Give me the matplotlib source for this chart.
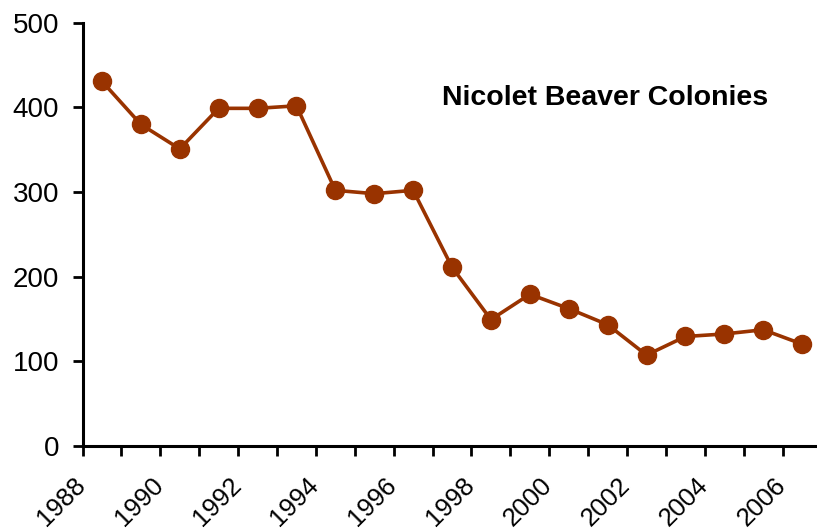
import matplotlib
matplotlib.use("Agg")
import matplotlib.pyplot as plt
from matplotlib.ticker import FixedLocator

plt.rcParams['font.family'] = ['Liberation Sans', 'DejaVu Sans']

years = list(range(1988, 2007))
colonies = [431, 380, 351, 399, 399, 402, 302, 298, 302, 211,
            149, 179, 162, 143, 107, 129, 132, 137, 120]
label_years = list(range(1988, 2007, 2))
yticks = [0, 100, 200, 300, 400, 500]

line_color = "#993300"

fig = plt.figure(figsize=(8.17, 5.31), dpi=100)
ax = fig.add_axes([0.101, 0.161, 0.9046, 0.7957])

x = list(range(len(years)))
ax.plot(x, colonies, color=line_color, lw=2.6, marker='o', ms=13,
        markerfacecolor=line_color, markeredgecolor=line_color, clip_on=False, zorder=3)

ax.set_xlim(-0.5, len(years) - 0.5)
ax.set_ylim(0, 500)

# y axis
ax.set_yticks(yticks)
ax.set_yticklabels([str(v) for v in yticks])
ax.tick_params(axis='y', direction='out', length=7, width=2, pad=10, labelsize=20)

# x axis: tick marks at category boundaries, labels every other year
ax.xaxis.set_minor_locator(FixedLocator([i - 0.5 for i in range(len(years) + 1)]))
label_pos = [years.index(y) - 0.3 for y in label_years]
ax.set_xticks(label_pos)
ax.set_xticklabels([str(y) for y in label_years])
ax.tick_params(axis='x', which='major', length=0, pad=19.5, labelsize=18.5)
ax.tick_params(axis='x', which='minor', direction='out', length=7, width=2)
for lbl in ax.get_xticklabels():
    lbl.set_rotation(45)
    lbl.set_ha('right')
    lbl.set_va('top')

for side in ['top', 'right']:
    ax.spines[side].set_visible(False)
for side in ['left', 'bottom']:
    ax.spines[side].set_linewidth(2.2)

ax.text(0.707, 0.822, "Nicolet Beaver Colonies", transform=ax.transAxes,
        ha='center', va='center', fontsize=20.5, fontweight='bold')

fig.savefig("out.png", dpi=100)
